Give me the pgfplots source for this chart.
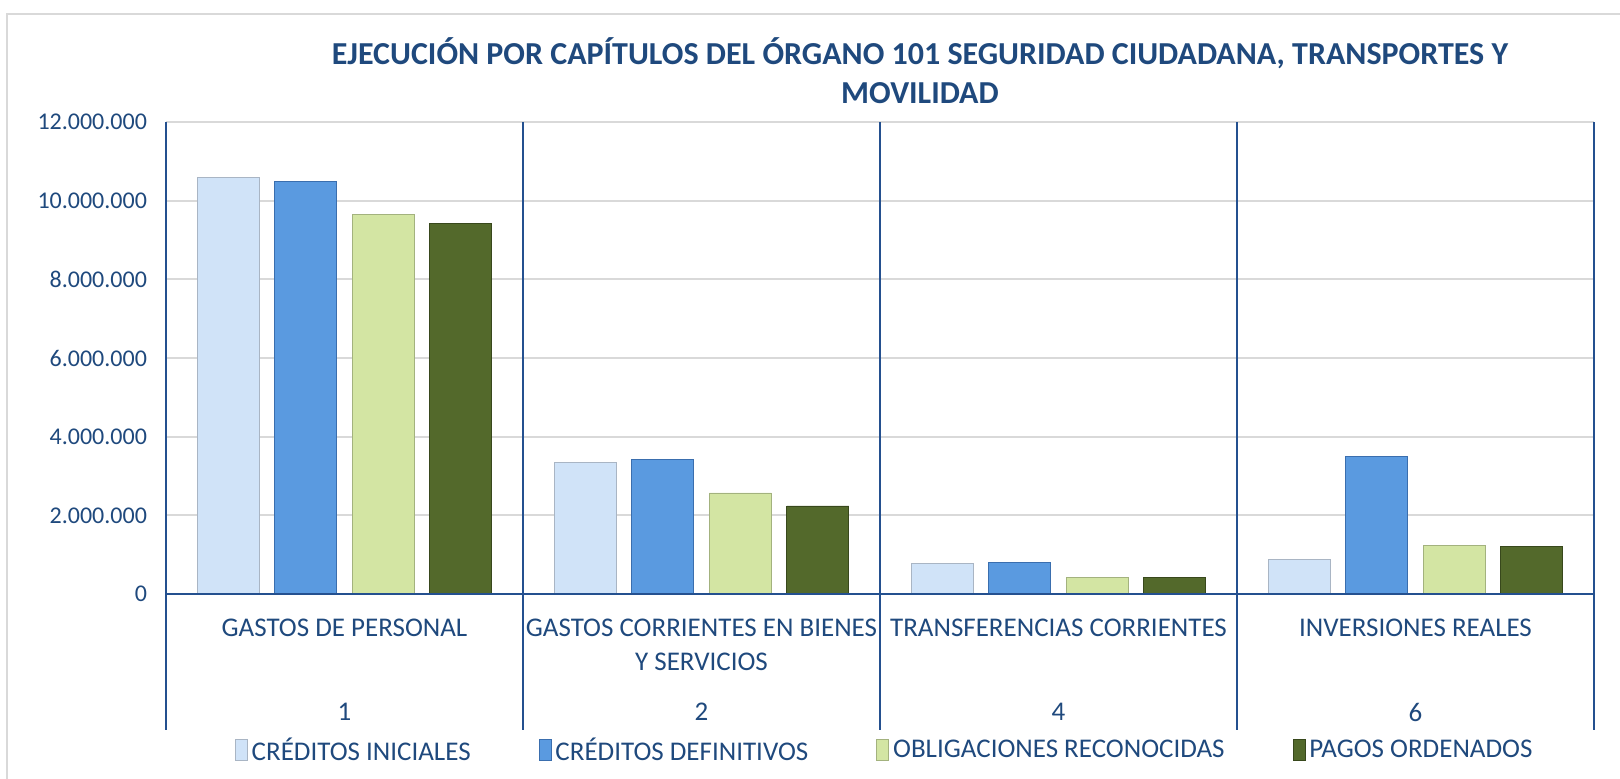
\documentclass[border=0pt]{standalone}
\usepackage{pgfplots}
\pgfplotsset{compat=1.18}
\usepackage{fontspec}
\setmainfont{Carlito}
\definecolor{txt}{HTML}{1F497D}
\definecolor{axl}{HTML}{24508F}
\definecolor{grd}{HTML}{D9D9D9}
\definecolor{cA}{HTML}{D0E3F8}
\definecolor{cAe}{HTML}{A9B5C4}
\definecolor{cB}{HTML}{5A9AE0}
\definecolor{cBe}{HTML}{3A6EAE}
\definecolor{cC}{HTML}{D3E5A3}
\definecolor{cCe}{HTML}{A3B27E}
\definecolor{cD}{HTML}{53692B}
\definecolor{cDe}{HTML}{38481C}
\begin{document}
\begin{tikzpicture}
\useasboundingbox (-83pt,-92pt) rectangle (727pt,297pt);
\draw[grd, line width=1.2pt] (-79.5pt,-100pt) -- (-79.5pt,290pt) -- (740pt,290pt);
\begin{axis}[
  scale only axis, width=714pt, height=236pt,
  ybar=7.75pt, bar width=31pt,
  xmin=-0.5, xmax=3.5, ymin=0, ymax=12000000,
  xtick={0,1,2,3},
  xticklabels={GASTOS DE PERSONAL, {GASTOS CORRIENTES EN BIENES\\Y SERVICIOS}, TRANSFERENCIAS CORRIENTES, INVERSIONES REALES},
  ytick={0,2000000,4000000,6000000,8000000,10000000,12000000},
  scaled y ticks=false,
  /pgf/number format/.cd, fixed, 1000 sep={.}, assume math mode=true,
  /pgfplots/.cd,
  major tick length=0pt,
  axis line style={draw=none},
  ymajorgrids, grid style={grd, line width=0.9pt},
  tick label style={font=\fontsize{12}{17}\selectfont, text=txt},
  x tick label style={font=\fontsize{13.5}{17}\selectfont, align=center, anchor=north, yshift=-9pt},
  y tick label style={anchor=east, xshift=-6pt},
  clip=false,
  legend columns=4,
  legend style={at={(0.504,-0.332)}, anchor=center, draw=none, fill=none,
    font=\fontsize{13.5}{16}\selectfont, text=txt,
    /tikz/every even column/.append style={column sep=32pt}},
  legend image code/.code={\draw[#1] (0pt,-5pt) rectangle (6pt,5.5pt);},
]
\addplot[fill=cA, draw=cAe] coordinates {(0,10580000) (1,3350000) (2,780000) (3,880000)};
\addplot[fill=cB, draw=cBe] coordinates {(0,10480000) (1,3430000) (2,800000) (3,3500000)};
\addplot[fill=cC, draw=cCe] coordinates {(0,9660000) (1,2570000) (2,420000) (3,1230000)};
\addplot[fill=cD, draw=cDe] coordinates {(0,9430000) (1,2240000) (2,430000) (3,1210000)};
\legend{CRÉDITOS INICIALES, CRÉDITOS DEFINITIVOS, OBLIGACIONES RECONOCIDAS, PAGOS ORDENADOS}
\draw[axl, line width=0.9pt] (axis cs:-0.5,12000000) -- (axis cs:-0.5,0) -- ++(0pt,-68pt);
\draw[axl, line width=0.9pt] (axis cs:0.5,12000000) -- (axis cs:0.5,0) -- ++(0pt,-68pt);
\draw[axl, line width=0.9pt] (axis cs:1.5,12000000) -- (axis cs:1.5,0) -- ++(0pt,-68pt);
\draw[axl, line width=0.9pt] (axis cs:2.5,12000000) -- (axis cs:2.5,0) -- ++(0pt,-68pt);
\draw[axl, line width=0.9pt] (axis cs:3.5,12000000) -- (axis cs:3.5,0) -- ++(0pt,-68pt);
\draw[axl, line width=1.3pt] (axis cs:-0.5,0) -- (axis cs:3.5,0);
\node[font=\fontsize{13.5}{16}\selectfont, text=txt] at ([yshift=-59pt]axis cs:0,0) {1};
\node[font=\fontsize{13.5}{16}\selectfont, text=txt] at ([yshift=-59pt]axis cs:1,0) {2};
\node[font=\fontsize{13.5}{16}\selectfont, text=txt] at ([yshift=-59pt]axis cs:2,0) {4};
\node[font=\fontsize{13.5}{16}\selectfont, text=txt] at ([yshift=-59pt]axis cs:3,0) {6};
\end{axis}
\node[align=center, font=\bfseries\fontsize{16}{19.6}\selectfont, text=txt] at (377pt,261.5pt)
  {EJECUCIÓN POR CAPÍTULOS DEL ÓRGANO 101 SEGURIDAD CIUDADANA, TRANSPORTES Y\\MOVILIDAD};
\end{tikzpicture}
\end{document}
